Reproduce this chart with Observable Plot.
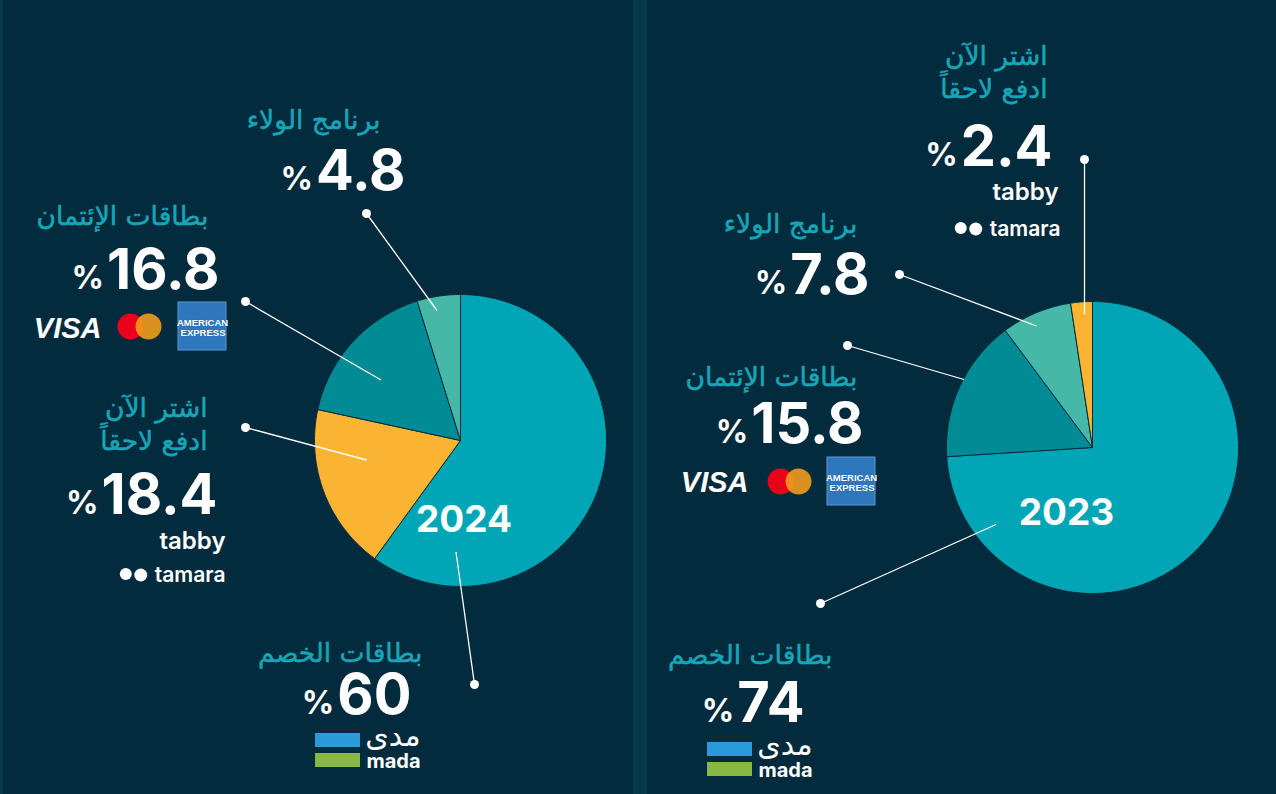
<!DOCTYPE html>
<html><head><meta charset="utf-8">
<script src="https://cdn.jsdelivr.net/npm/d3@7"></script>
<script src="https://cdn.jsdelivr.net/npm/@observablehq/plot@0.6"></script>
<style>
html,body{margin:0;padding:0;width:1276px;height:794px;overflow:hidden;
background:linear-gradient(to right,#03394b 0 3px,#022b3d 3px 633px,#03394b 633px 647px,#022b3d 647px 1276px);}
#chart svg{display:block}
</style></head><body><div id="chart"></div><script>
// ---------- DATA ----------
const years = ["2024", "2023"];
const keys = ["debit", "bnpl", "credit", "loyalty"];
const categoryLabels = ["بطاقات الخصم", "اشتر الآن\nادفع لاحقاً", "بطاقات الإئتمان", "برنامج الولاء"];
const sliceColors = ["#00a6b6", "#fbb432", "#018b95", "#45b8a8"];
const order2024 = ["debit", "bnpl", "credit", "loyalty"];
const values2024 = [60, 18.4, 16.8, 4.8];
const order2023 = ["debit", "credit", "loyalty", "bnpl"];
const values2023 = [74, 15.8, 7.8, 2.4];

// ---------- LAYOUT / STYLE ----------
const BG = "#022b3d";
const TEAL_TEXT = "#17a6b7";
const NUM_FONT = "Inter, Roboto, sans-serif";
const AR_FONT = "'DejaVu Sans', sans-serif";
const AR_SIZE = 26.5;
const pieLayout = {
  "2024": {cx: 460, cy: 440, r: 146, year: [463.5, 531]},
  "2023": {cx: 1092, cy: 447, r: 146, year: [1066, 524]}
};
const labelLayout = {
  "2024": {
    loyalty: {cat: [380, 128], num: [405, 189], dot: [366, 213], anchor: [436.5, 310]},
    credit:  {cat: [208, 224], num: [219, 288], dot: [245, 301], anchor: [380.5, 379.5]},
    bnpl:    {cat: [207, 449], num: [217, 513], dot: [245, 427], anchor: [366, 459.5]},
    debit:   {cat: [422, 661], num: [411, 713], dot: [474, 684], anchor: [455.5, 551.5]}
  },
  "2023": {
    bnpl:    {cat: [1047, 97], num: [1052, 165], dot: [1084, 159], anchor: [1084, 314]},
    loyalty: {cat: [857, 232], num: [869, 293], dot: [899, 274], anchor: [1036, 325.5]},
    credit:  {cat: [857, 385], num: [863, 442], dot: [847, 345], anchor: [963.5, 379]},
    debit:   {cat: [832, 663], num: [804, 721], dot: [820, 603], anchor: [995.5, 524]}
  }
};
const logoLayout = [
  {type: "cards", visa: [101, 337], mc: [130, 148, 326], amex: [178, 302]},
  {type: "cards", visa: [748, 491], mc: [780, 798, 481], amex: [827, 457]},
  {type: "bnpl", tabby: [225, 548], tamara: [225, 581]},
  {type: "bnpl", tabby: [1058, 199], tamara: [1060, 235]},
  {type: "mada", at: [315, 733], right: 420},
  {type: "mada", at: [707, 742], right: 812}
];

// ---------- BUILD ----------
const ctx = document.createElement("canvas").getContext("2d");
function textWidth(s, size, weight, family) { ctx.font = `${weight} ${size}px ${family}`; return ctx.measureText(s).width; }

const series = [
  {year: years[0], order: order2024, values: values2024},
  {year: years[1], order: order2023, values: values2023}
];
const sliceRows = [], yearRows = [], catRows = [], numRows = [], pctRows = [], linkRows = [], dotRows = [];
const NUM_SIZE = 56, PCT_SIZE = 32;
for (const s of series) {
  const L = pieLayout[s.year];
  const total = d3.sum(s.values);
  let acc = 0;
  s.order.forEach((k, i) => {
    const color = sliceColors[keys.indexOf(k)];
    const id = s.year + "-" + k;
    const a0 = acc / total * 2 * Math.PI;
    acc += s.values[i];
    const a1 = acc / total * 2 * Math.PI;
    const n = Math.max(2, Math.ceil((a1 - a0) / (Math.PI / 360)));
    sliceRows.push({id, x: L.cx, y: L.cy, color});
    for (let j = 0; j <= n; j++) {
      const a = a0 + (a1 - a0) * j / n;
      sliceRows.push({id, x: L.cx + L.r * Math.sin(a), y: L.cy - L.r * Math.cos(a), color});
    }
    sliceRows.push({id, x: L.cx, y: L.cy, color});
    const P = labelLayout[s.year][k];
    catRows.push({x: P.cat[0], y: P.cat[1], text: categoryLabels[keys.indexOf(k)]});
    const numText = String(s.values[i]);
    numRows.push({x: P.num[0], y: P.num[1], text: numText});
    const w = textWidth(numText, NUM_SIZE, 700, NUM_FONT);
    pctRows.push({x: P.num[0] - w - 3, y: P.num[1], text: "%"});
    linkRows.push({x1: P.anchor[0], y1: P.anchor[1], x2: P.dot[0], y2: P.dot[1]});
    dotRows.push({x: P.dot[0], y: P.dot[1]});
  });
  yearRows.push({x: L.year[0], y: L.year[1], text: s.year});
}

// logos
const logoMarks = [];
for (const g of logoLayout) {
  if (g.type === "cards") {
    logoMarks.push(Plot.text([g.visa], {x: d => d[0], y: d => d[1], text: () => "VISA", textAnchor: "end", lineAnchor: "bottom",
      fill: "#fff", fontSize: 29, fontWeight: 900, fontStyle: "italic", fontFamily: "'Liberation Sans', Arial, sans-serif"}));
    logoMarks.push(Plot.dot([g.mc], {x: d => d[0], y: d => d[2], r: 13, fill: "#eb001b"}));
    logoMarks.push(Plot.dot([g.mc], {x: d => d[1], y: d => d[2], r: 13, fill: "#f79e1b", fillOpacity: 0.88}));
    logoMarks.push(Plot.rect([g.amex], {x1: d => d[0], x2: d => d[0] + 48, y1: d => d[1], y2: d => d[1] + 48, fill: "#2f77bd", stroke: "#5d9ad6", strokeWidth: 1}));
    logoMarks.push(Plot.text([g.amex], {x: d => d[0] + 24, y: d => d[1] + 20, text: () => "AMERICAN", textAnchor: "middle", lineAnchor: "middle",
      fill: "#fff", fontSize: 9.5, fontWeight: 700, fontFamily: "'Liberation Sans Narrow', 'Liberation Sans', sans-serif", stroke: "#1f5f9e", strokeWidth: 0.4}));
    logoMarks.push(Plot.text([g.amex], {x: d => d[0] + 47, y: d => d[1] + 30, text: () => "EXPRESS", textAnchor: "end", lineAnchor: "middle",
      fill: "#fff", fontSize: 9.5, fontWeight: 700, fontFamily: "'Liberation Sans Narrow', 'Liberation Sans', sans-serif", stroke: "#1f5f9e", strokeWidth: 0.4}));
  } else if (g.type === "bnpl") {
    logoMarks.push(Plot.text([g.tabby], {x: d => d[0], y: d => d[1], text: () => "tabby", textAnchor: "end", lineAnchor: "bottom",
      fill: "#fff", fontSize: 24, fontWeight: 600, fontFamily: NUM_FONT}));
    const tw = textWidth("tamara", 21, 600, NUM_FONT);
    logoMarks.push(Plot.text([g.tamara], {x: d => d[0], y: d => d[1], text: () => "tamara", textAnchor: "end", lineAnchor: "bottom",
      fill: "#fff", fontSize: 21, fontWeight: 600, fontFamily: NUM_FONT}));
    logoMarks.push(Plot.dot([g.tamara], {x: d => d[0] - tw - 14, y: d => d[1] - 6.5, r: 6.5, fill: "#fff"}));
    logoMarks.push(Plot.dot([g.tamara], {x: d => d[0] - tw - 29, y: d => d[1] - 7.5, r: 6, fill: "#fff"}));
  } else if (g.type === "mada") {
    const [mx, my] = g.at;
    logoMarks.push(Plot.rect([g], {x1: () => mx, x2: () => mx + 45, y1: () => my, y2: () => my + 14, fill: "#2a9bd8"}));
    logoMarks.push(Plot.rect([g], {x1: () => mx, x2: () => mx + 45, y1: () => my + 20, y2: () => my + 34, fill: "#86b843"}));
    logoMarks.push(Plot.text([g], {x: () => g.right, y: () => my + 12, text: () => "مدى", textAnchor: "end", lineAnchor: "bottom",
      fill: "#fff", fontSize: 30, fontFamily: AR_FONT}));
    logoMarks.push(Plot.text([g], {x: () => g.right, y: () => my + 34, text: () => "mada", textAnchor: "end", lineAnchor: "bottom",
      fill: "#fff", fontSize: 20, fontWeight: 700, fontFamily: NUM_FONT}));
  }
}

const chart = Plot.plot({
  width: 1276, height: 794, margin: 0,
  x: {domain: [0, 1276], range: [0, 1276], axis: null},
  y: {domain: [0, 794], range: [0, 794], axis: null},
  color: {type: "identity"},
  style: {background: "transparent", overflow: "visible"},
  marks: [
    Plot.line(sliceRows, {x: "x", y: "y", z: "id", fill: "color", stroke: BG, strokeWidth: 1, strokeLinejoin: "round", curve: "linear"}),
    Plot.link(linkRows, {x1: "x1", y1: "y1", x2: "x2", y2: "y2", stroke: "#ffffff", strokeWidth: 1.3}),
    Plot.dot(dotRows, {x: "x", y: "y", r: 4.5, fill: "#ffffff"}),
    Plot.text(yearRows, {x: "x", y: "y", text: "text", textAnchor: "middle", lineAnchor: "bottom", fill: "#fff", fontSize: 37, fontWeight: 700, fontFamily: NUM_FONT}),
    Plot.text(catRows, {x: "x", y: "y", text: "text", textAnchor: "end", lineAnchor: "bottom", fill: TEAL_TEXT, stroke: TEAL_TEXT, strokeWidth: 0.5, fontSize: AR_SIZE, lineHeight: 1.21, fontFamily: AR_FONT}),
    Plot.text(numRows, {x: "x", y: "y", text: "text", textAnchor: "end", lineAnchor: "bottom", fill: "#fff", fontSize: NUM_SIZE, fontWeight: 700, fontFamily: NUM_FONT}),
    Plot.text(pctRows, {x: "x", y: "y", text: "text", textAnchor: "end", lineAnchor: "bottom", fill: "#fff", fontSize: PCT_SIZE, fontWeight: 700, fontFamily: NUM_FONT}),
    ...logoMarks
  ]
});
document.getElementById("chart").appendChild(chart);
</script></body></html>
